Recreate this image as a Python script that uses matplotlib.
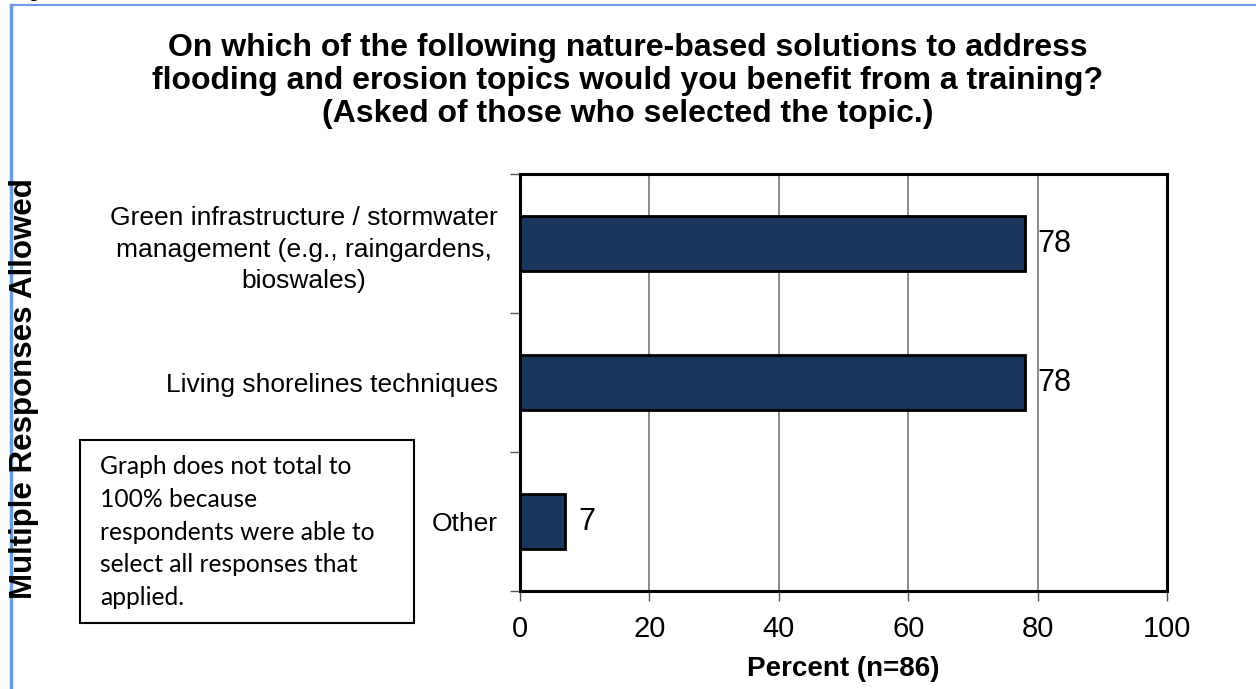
import matplotlib
matplotlib.use('Agg')
import matplotlib.pyplot as plt
import numpy as np

# survey results
topics = ['Green infrastructure / stormwater\nmanagement (e.g., raingardens,\nbioswales)',
          'Living shorelines techniques',
          'Other']
percent = [78, 78, 7]
xticks = [0, 20, 40, 60, 80, 100]

plt.rcParams['font.family'] = 'Liberation Sans'

fig = plt.figure(figsize=(12.56, 6.89), dpi=100)
W, H = 1256, 689
# axes box in pixels: left 520, right 1167, top 174, bottom 591
ax = fig.add_axes([520 / W, 1 - 591 / H, (1167 - 520) / W, (591 - 174) / H])

y = np.arange(len(topics))
ax.barh(y, percent, height=0.4, color='#1b365c', edgecolor='black', linewidth=2, zorder=3)
for yi, v in zip(y, percent):
    ax.text(v + 2, yi, str(v), va='center', ha='left', fontsize=22)

ax.set_xlim(0, 100)
ax.set_ylim(len(topics) - 0.5, -0.5)
ax.set_xticks(xticks)
ax.set_xticklabels([str(t) for t in xticks], fontsize=21)
ax.set_yticks(y)
ax.set_yticklabels(topics, fontsize=19, multialignment='center', linespacing=1.38)
ax.set_yticks(np.arange(len(topics) + 1) - 0.5, minor=True)
ax.tick_params(axis='y', which='major', length=0, pad=16)
ax.tick_params(axis='y', which='minor', length=7, width=1, color='#555555')
ax.tick_params(axis='x', length=7, width=1, color='#555555', pad=10)
ax.grid(axis='x', color='#777777', linewidth=1.2, zorder=0)
for s in ax.spines.values():
    s.set_linewidth(2.2)
    s.set_color('black')

ax.set_xlabel('Percent (n=86)', fontsize=20, fontweight='bold', labelpad=10)

fig.text(628 / W, 1 - 81 / H,
         'On which of the following nature-based solutions to address\n'
         'flooding and erosion topics would you benefit from a training?\n'
         '(Asked of those who selected the topic.)',
         ha='center', va='center', fontsize=23, fontweight='bold', linespacing=1.14)

fig.text(24 / W, 1 - 389 / H, 'Multiple Responses Allowed', rotation=90,
         ha='center', va='center', fontsize=22.5, fontweight='bold')

# note box
fig.patches.append(plt.Rectangle((80 / W, 1 - 623 / H), 334 / W, 183 / H,
                                 transform=fig.transFigure, fill=False,
                                 edgecolor='black', linewidth=1.5))
fig.text(100 / W, 1 - 532 / H,
         'Graph does not total to\n100% because\nrespondents were able to\n'
         'select all responses that\napplied.',
         ha='left', va='center', family='Lato', fontsize=17.7, linespacing=1.51)

# outer frame
fig.add_artist(plt.Line2D([11 / W, 11 / W], [0, 1 - 5 / H], transform=fig.transFigure,
                          color='#6a9be0', linewidth=2.5))
fig.add_artist(plt.Line2D([11 / W, 1], [1 - 5 / H, 1 - 5 / H], transform=fig.transFigure,
                          color='#6a9be0', linewidth=1.5))
fig.text(12 / W, 1 + 3 / H, 'Figure', ha='left', va='baseline', fontsize=14, fontweight='bold')

fig.savefig('out.png', dpi=100)
